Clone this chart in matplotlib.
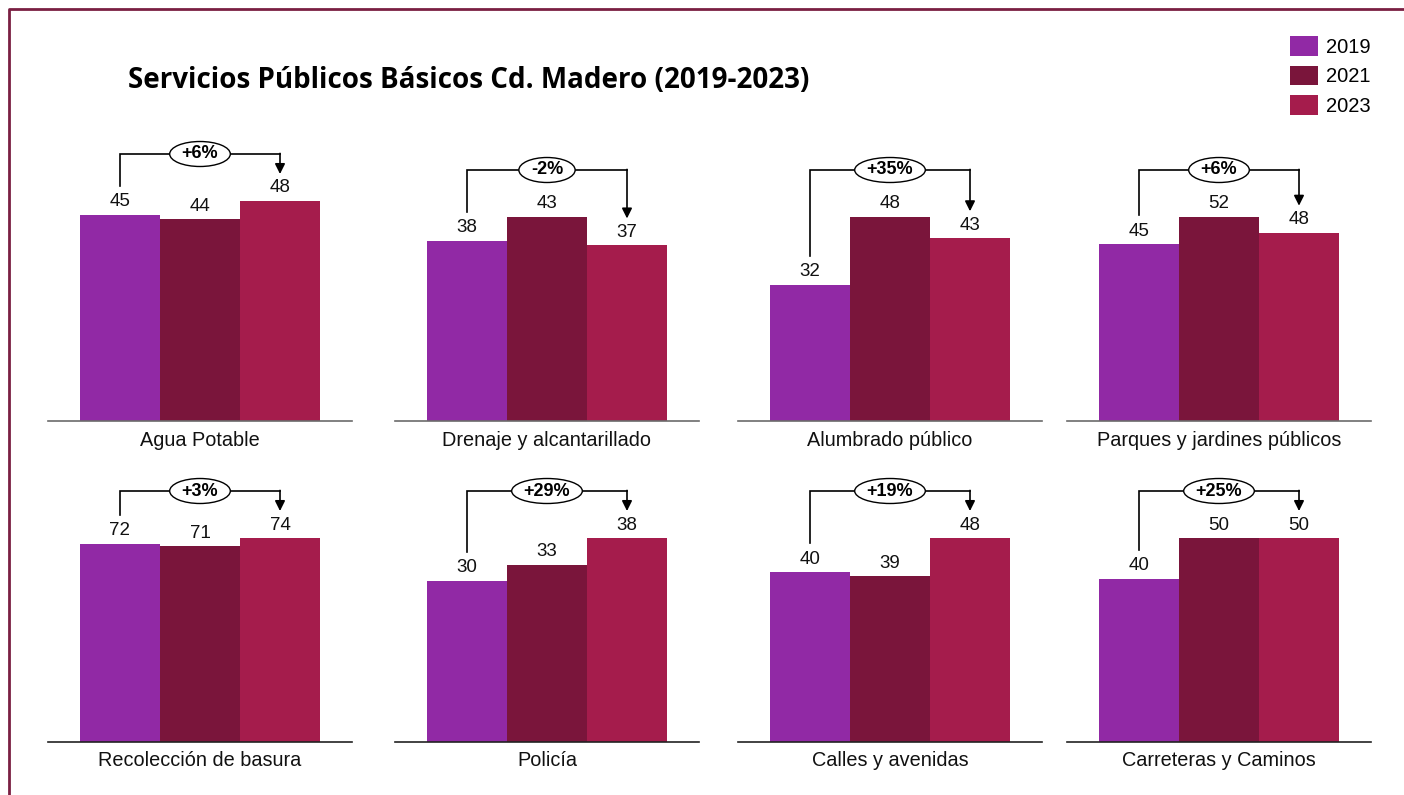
import matplotlib
matplotlib.use("Agg")
import matplotlib.pyplot as plt
from matplotlib.patches import Patch, Ellipse
from matplotlib.lines import Line2D

plt.rcParams['font.family'] = ['Liberation Sans', 'DejaVu Sans']

years = ['2019', '2021', '2023']
servicios = ['Agua Potable', 'Drenaje y alcantarillado', 'Alumbrado público',
             'Parques y jardines públicos', 'Recolección de basura', 'Policía',
             'Calles y avenidas', 'Carreteras y Caminos']
v2019 = [45, 38, 32, 45, 72, 30, 40, 40]
v2021 = [44, 43, 48, 52, 71, 33, 39, 50]
v2023 = [48, 37, 43, 48, 74, 38, 48, 50]
cambio = ['+6%', '-2%', '+35%', '+6%', '+3%', '+29%', '+19%', '+25%']

colores = ['#9129A5', '#7A153B', '#A51C4C']

W, H = 1404, 795
fig = plt.figure(figsize=(W / 100, H / 100), dpi=100)
renderer = fig.canvas.get_renderer()

# panel layout in pixels
lefts = [48, 395, 738, 1067]
bases = [421, 742]
ax_w, ax_h = 304, 281
# pixel height of the tallest bar in each panel
alto_max = [220, 204, 204, 204, 204, 204, 204, 204]

for k, nombre in enumerate(servicios):
    fila, col = divmod(k, 4)
    x0 = lefts[col]
    y0 = bases[fila]
    ax = fig.add_axes([x0 / W, (H - y0) / H, ax_w / W, ax_h / H])
    vals = [v2019[k], v2021[k], v2023[k]]
    pxu = alto_max[k] / max(vals)          # pixels per unit (y)
    pxx = ax_w / 3.8                       # pixels per unit (x)
    ax.bar(range(3), vals, width=1.0, color=colores)
    ax.set_xlim(-0.9, 2.9)
    ax.set_ylim(0, ax_h / pxu)
    for s in ['top', 'right', 'left']:
        ax.spines[s].set_visible(False)
    ax.spines['bottom'].set_color('#6b6b6b' if fila == 0 else '#222222')
    ax.spines['bottom'].set_linewidth(1.2)
    ax.set_xticks([])
    ax.set_yticks([])
    ax.patch.set_alpha(0)

    for i, v in enumerate(vals):
        ax.text(i, v + 13 / pxu, str(v), ha='center', va='center',
                fontsize=13.5, color='#111111')
    ax.text(1, -19 / pxu, nombre, ha='center', va='center',
            fontsize=14.3, color='#111111', clip_on=False)

    # bracket from 2019 to 2023 with the change
    y_br = max(vals) + 47 / pxu
    y_ini = vals[0] + 29 / pxu
    y_fin = vals[2] + 27 / pxu
    ax.plot([0, 0, 2], [y_ini, y_br, y_br], color='black', lw=1.2,
            clip_on=False, solid_joinstyle='miter')
    ax.annotate('', xy=(2, y_fin), xytext=(2, y_br + 0.6 / pxu),
                arrowprops=dict(arrowstyle='-|>', color='black', lw=1.2,
                                mutation_scale=15, shrinkA=0, shrinkB=0),
                annotation_clip=False)
    t = ax.text(1, y_br, cambio[k], ha='center', va='center', fontsize=13,
                fontweight='bold', clip_on=False, zorder=5)
    tw = t.get_window_extent(renderer=renderer).width
    ax.add_patch(Ellipse((1, y_br), (tw + 24) / pxx, 25 / pxu, fc='white',
                         ec='black', lw=1, clip_on=False, zorder=4))

fig.text(128 / W, 1 - 80 / H, 'Servicios Públicos Básicos Cd. Madero (2019-2023)',
         fontsize=20, fontweight='bold', family=['Open Sans', 'DejaVu Sans'],
         ha='left', va='center', color='black')

handles = [Patch(facecolor=c, edgecolor='none') for c in colores]
fig.legend(handles, years, loc='upper left',
           bbox_to_anchor=(1290 / W, 1 - 36 / H), frameon=False,
           fontsize=14.5, handlelength=1.39, handleheight=1.14,
           handletextpad=0.4, labelspacing=0.44, borderpad=0, borderaxespad=0)

# outer frame
fig.add_artist(Line2D([9 / W, 9 / W, 1], [0, 1 - 9 / H, 1 - 9 / H],
                      transform=fig.transFigure, color='#7A1F42', lw=2))

fig.savefig('out.png', dpi=100)
